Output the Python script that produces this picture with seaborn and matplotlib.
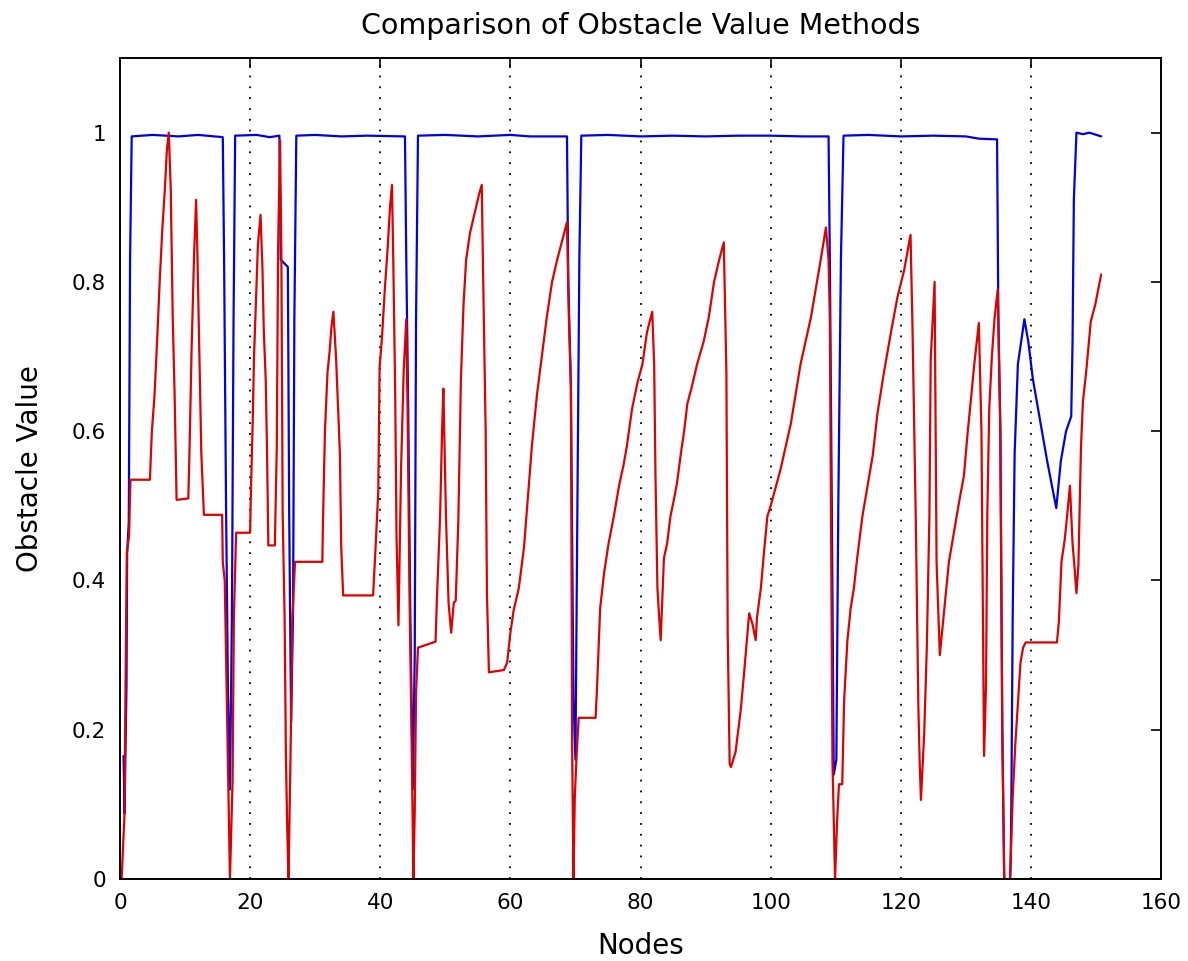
"""Recreate the obstacle value comparison chart."""

import matplotlib

matplotlib.use("Agg")
import seaborn as sns
from matplotlib import pyplot as plt

# Blue series: vertices (node, obstacle value)
blue_x = [
    0.55, 0.7, 1.0, 1.1, 1.35, 1.55, 1.8, 5.0, 9.0, 12.0, 15.8,
    16.0, 16.3, 16.6, 16.9, 17.2, 17.45, 17.7, 21.0, 23.0, 24.5,
    24.7, 25.8, 26.0, 26.3, 26.6, 26.8, 27.1, 30.0, 34.0, 38.0, 43.8,
    44.0, 44.3, 44.6, 45.0, 45.3, 45.5, 45.8, 50.0, 55.0, 60.0, 63.0, 68.7,
    68.9, 69.3, 69.7, 70.0, 70.3, 70.6, 70.9, 75.0, 80.0, 85.0, 90.0, 95.0,
    100.0, 105.0, 108.9,
    109.1, 109.4, 109.7, 110.1, 110.4, 110.8, 111.2, 115.0, 120.0, 125.0,
    130.0, 132.0, 134.8,
    135.0, 135.3, 135.6, 135.9, 136.8, 136.9, 137.0, 137.2, 137.5, 138.0,
    138.5, 139.0, 139.6, 140.3, 141.3, 142.5, 143.9, 144.6, 145.4, 146.2,
    146.4, 146.6, 147.0, 148.0, 149.0, 150.8,
]
blue_y = [
    0.165, 0.088, 0.26, 0.437, 0.478, 0.83, 0.995, 0.997, 0.995, 0.997, 0.994,
    0.83, 0.50, 0.247, 0.12, 0.35, 0.746, 0.996, 0.997, 0.994, 0.996,
    0.83, 0.82, 0.495, 0.21, 0.36, 0.75, 0.996, 0.997, 0.995, 0.996, 0.995,
    0.83, 0.63, 0.37, 0.12, 0.30, 0.75, 0.996, 0.997, 0.995, 0.997, 0.995, 0.995,
    0.80, 0.66, 0.24, 0.16, 0.50, 0.83, 0.996, 0.997, 0.995, 0.996, 0.995, 0.996,
    0.996, 0.995, 0.995,
    0.83, 0.50, 0.14, 0.16, 0.50, 0.83, 0.996, 0.997, 0.995, 0.996,
    0.995, 0.992, 0.991,
    0.75, 0.605, 0.20, 0.0, 0.0, 0.03, 0.107, 0.35, 0.57, 0.69,
    0.72, 0.75, 0.72, 0.67, 0.62, 0.56, 0.497, 0.56, 0.60, 0.62,
    0.72, 0.91, 1.0, 0.998, 1.0, 0.995,
]

# Red series
red_x = [
    0.25, 0.7, 0.85, 1.05, 1.4, 1.6, 4.6,
    4.9, 5.3, 5.7, 6.1, 6.5, 6.9, 7.2, 7.5,
    7.8, 8.1, 8.4, 8.7, 10.5,
    10.7, 11.0, 11.4, 11.7, 11.9, 12.2, 12.5, 12.9, 15.7,
    15.8, 16.1, 16.4, 16.7, 16.9, 17.3, 17.5, 17.85, 20.0,
    20.1, 20.4, 20.6, 20.9, 21.2, 21.6, 21.9, 22.1, 22.4, 22.6, 22.8, 23.8,
    24.1, 24.3, 24.6, 24.8, 25.0, 25.3, 25.5, 25.7, 25.9,
    26.2, 26.5, 26.9, 31.1,
    31.2, 31.5, 31.9, 32.2, 32.5, 32.8, 33.2, 33.8, 34.0, 34.3, 38.9,
    39.2, 39.7, 39.9, 40.3, 40.7, 41.1, 41.5, 41.8,
    42.0, 42.3, 42.5, 42.8, 43.2, 43.6, 44.0, 44.2, 44.5, 44.8, 45.1,
    45.3, 45.5, 45.8, 48.5,
    48.7, 49.2, 49.5, 49.7, 50.1, 50.5, 50.9, 51.3, 51.6, 52.0, 52.4, 52.8,
    53.2, 53.8, 54.6, 55.2, 55.6,
    55.8, 56.2, 56.4, 56.7, 59.0, 59.5, 60.0, 60.5, 61.3, 62.1, 62.8, 63.3,
    64.1, 64.9, 65.6, 66.4, 67.2, 68.2, 68.7,
    69.0, 69.3, 69.5, 69.7, 69.9, 70.2, 70.5, 73.1,
    73.3, 73.8, 74.4, 75.1, 75.9, 76.7, 77.4, 77.9, 78.7, 79.5, 80.3, 81.0, 81.8,
    82.1, 82.3, 82.6, 82.8, 83.1, 83.6, 84.1, 84.6, 85.1, 85.6, 86.2, 86.7,
    87.2, 87.9, 88.7, 89.7, 90.5, 91.3, 92.1, 92.8,
    93.2, 93.4, 93.7, 93.9, 94.6, 95.4, 95.9, 96.7, 97.2, 97.7, 97.9, 98.5,
    99.0, 99.5, 100.0, 101.5, 103.1, 104.6, 106.2, 107.7, 108.5,
    108.9, 109.1, 109.3, 109.5, 109.9, 110.2, 110.5, 111.0, 111.3, 111.8,
    112.3, 112.8, 113.3, 114.1, 114.9, 115.7, 116.4, 117.4, 118.5, 119.5,
    120.5, 121.5,
    121.8, 122.3, 122.7, 122.9, 123.1, 123.6, 124.0, 124.4, 124.6, 125.2,
    125.5, 126.0, 126.7, 127.4, 128.2, 129.0, 129.7, 130.3, 130.8, 131.3, 132.0,
    132.4, 132.8, 133.1, 133.3, 133.6, 134.0, 134.4, 134.9, 135.3, 135.6,
    135.9, 136.8,
    137.2, 137.6, 138.0, 138.4, 138.8, 139.2, 144.0,
    144.3, 144.7, 145.2, 145.6, 146.0, 146.4, 146.7, 147.0, 147.3, 147.5,
    147.7, 148.0, 148.5, 149.2, 149.9, 150.8,
]
red_y = [
    0.0, 0.088, 0.26, 0.437, 0.46, 0.535, 0.535,
    0.60, 0.647, 0.72, 0.80, 0.87, 0.925, 0.976, 1.0,
    0.925, 0.756, 0.647, 0.508, 0.51,
    0.58, 0.708, 0.84, 0.91, 0.837, 0.70, 0.57, 0.488, 0.488,
    0.424, 0.40, 0.247, 0.10, 0.0, 0.13, 0.35, 0.464, 0.464,
    0.51, 0.613, 0.70, 0.776, 0.85, 0.89, 0.817, 0.735, 0.668, 0.573, 0.447, 0.447,
    0.58, 0.845, 0.99, 0.84, 0.49, 0.35, 0.166, 0.07, 0.0,
    0.16, 0.35, 0.425, 0.425,
    0.48, 0.60, 0.68, 0.705, 0.74, 0.76, 0.70, 0.57, 0.445, 0.38, 0.38,
    0.43, 0.52, 0.685, 0.73, 0.79, 0.84, 0.90, 0.93,
    0.83, 0.65, 0.46, 0.34, 0.55, 0.68, 0.75, 0.63, 0.38, 0.20, 0.0,
    0.09, 0.25, 0.31, 0.318,
    0.373, 0.486, 0.60, 0.657, 0.486, 0.37, 0.33, 0.37, 0.373, 0.48, 0.67, 0.77,
    0.83, 0.866, 0.896, 0.918, 0.93,
    0.815, 0.60, 0.383, 0.277, 0.28, 0.29, 0.33, 0.36, 0.39, 0.445, 0.524, 0.58,
    0.65, 0.705, 0.753, 0.80, 0.83, 0.863, 0.88,
    0.75, 0.66, 0.17, 0.0, 0.11, 0.17, 0.216, 0.216,
    0.253, 0.363, 0.41, 0.45, 0.486, 0.527, 0.555, 0.58, 0.63, 0.664, 0.69, 0.733, 0.76,
    0.69, 0.54, 0.39, 0.36, 0.32, 0.43, 0.45, 0.486, 0.507, 0.53, 0.57, 0.60,
    0.637, 0.66, 0.69, 0.72, 0.753, 0.80, 0.83, 0.853,
    0.678, 0.33, 0.154, 0.15, 0.17, 0.226, 0.274, 0.356, 0.342, 0.32, 0.35, 0.39,
    0.44, 0.486, 0.50, 0.548, 0.61, 0.69, 0.753, 0.83, 0.873,
    0.83, 0.75, 0.445, 0.158, 0.0, 0.075, 0.127, 0.127, 0.24, 0.32,
    0.363, 0.39, 0.43, 0.486, 0.527, 0.568, 0.623, 0.678, 0.733, 0.78,
    0.815, 0.863,
    0.74, 0.486, 0.233, 0.158, 0.106, 0.195, 0.31, 0.486, 0.695, 0.80,
    0.425, 0.30, 0.363, 0.425, 0.466, 0.507, 0.54, 0.60, 0.644, 0.69, 0.745,
    0.60, 0.165, 0.26, 0.49, 0.63, 0.70, 0.75, 0.79, 0.60, 0.205,
    0.0, 0.0,
    0.11, 0.18, 0.235, 0.29, 0.31, 0.317, 0.317,
    0.345, 0.425, 0.455, 0.49, 0.527, 0.45, 0.418, 0.383, 0.42, 0.50,
    0.58, 0.64, 0.68, 0.747, 0.77, 0.81,
]

x_ticks = [0, 20, 40, 60, 80, 100, 120, 140, 160]
y_ticks = [0, 0.2, 0.4, 0.6, 0.8, 1.0]
y_tick_labels = ["0", "0.2", "0.4", "0.6", "0.8", "1"]


def _main() -> None:
    sns.set_theme(style="white")
    plt.rcParams["font.family"] = ["DejaVu Sans"]
    plt.rcParams["text.color"] = "black"
    plt.rcParams["axes.labelcolor"] = "black"
    plt.rcParams["xtick.color"] = "black"
    plt.rcParams["ytick.color"] = "black"
    plt.rcParams["xtick.direction"] = "in"
    plt.rcParams["ytick.direction"] = "in"

    fig = plt.figure(figsize=(11.88, 9.61), dpi=100)
    ax = fig.add_axes((0.101, 0.0853, 0.8763, 0.8543))

    # Dotted vertical grid, MATLAB style
    ax.xaxis.grid(True, color="black", linestyle=(0, (1, 5)), linewidth=1.3)
    ax.yaxis.grid(False)
    ax.set_axisbelow(True)

    sns.lineplot(x=blue_x, y=blue_y, color="#0000f0", linewidth=1.6,
                 estimator=None, sort=False, ax=ax)
    sns.lineplot(x=red_x, y=red_y, color="#e00000", linewidth=1.6,
                 estimator=None, sort=False, ax=ax)

    ax.set_xlim(0, 160)
    ax.set_ylim(0, 1.1)
    ax.set_xticks(x_ticks)
    ax.set_yticks(y_ticks)
    ax.set_yticklabels(y_tick_labels)
    ax.tick_params(axis="both", which="major", length=7, width=1.2,
                   labelsize=15.5, pad=10, top=True, right=True, color="black")

    for spine in ax.spines.values():
        spine.set_color("black")
        spine.set_linewidth(1.4)

    ax.set_title("Comparison of Obstacle Value Methods", fontsize=20.5, pad=17)
    ax.set_xlabel("Nodes", fontsize=20, labelpad=14)
    ax.set_ylabel("Obstacle Value", fontsize=20, labelpad=20)

    fig.savefig("out.png", dpi=100, facecolor="white")


if __name__ == "__main__":
    _main()
